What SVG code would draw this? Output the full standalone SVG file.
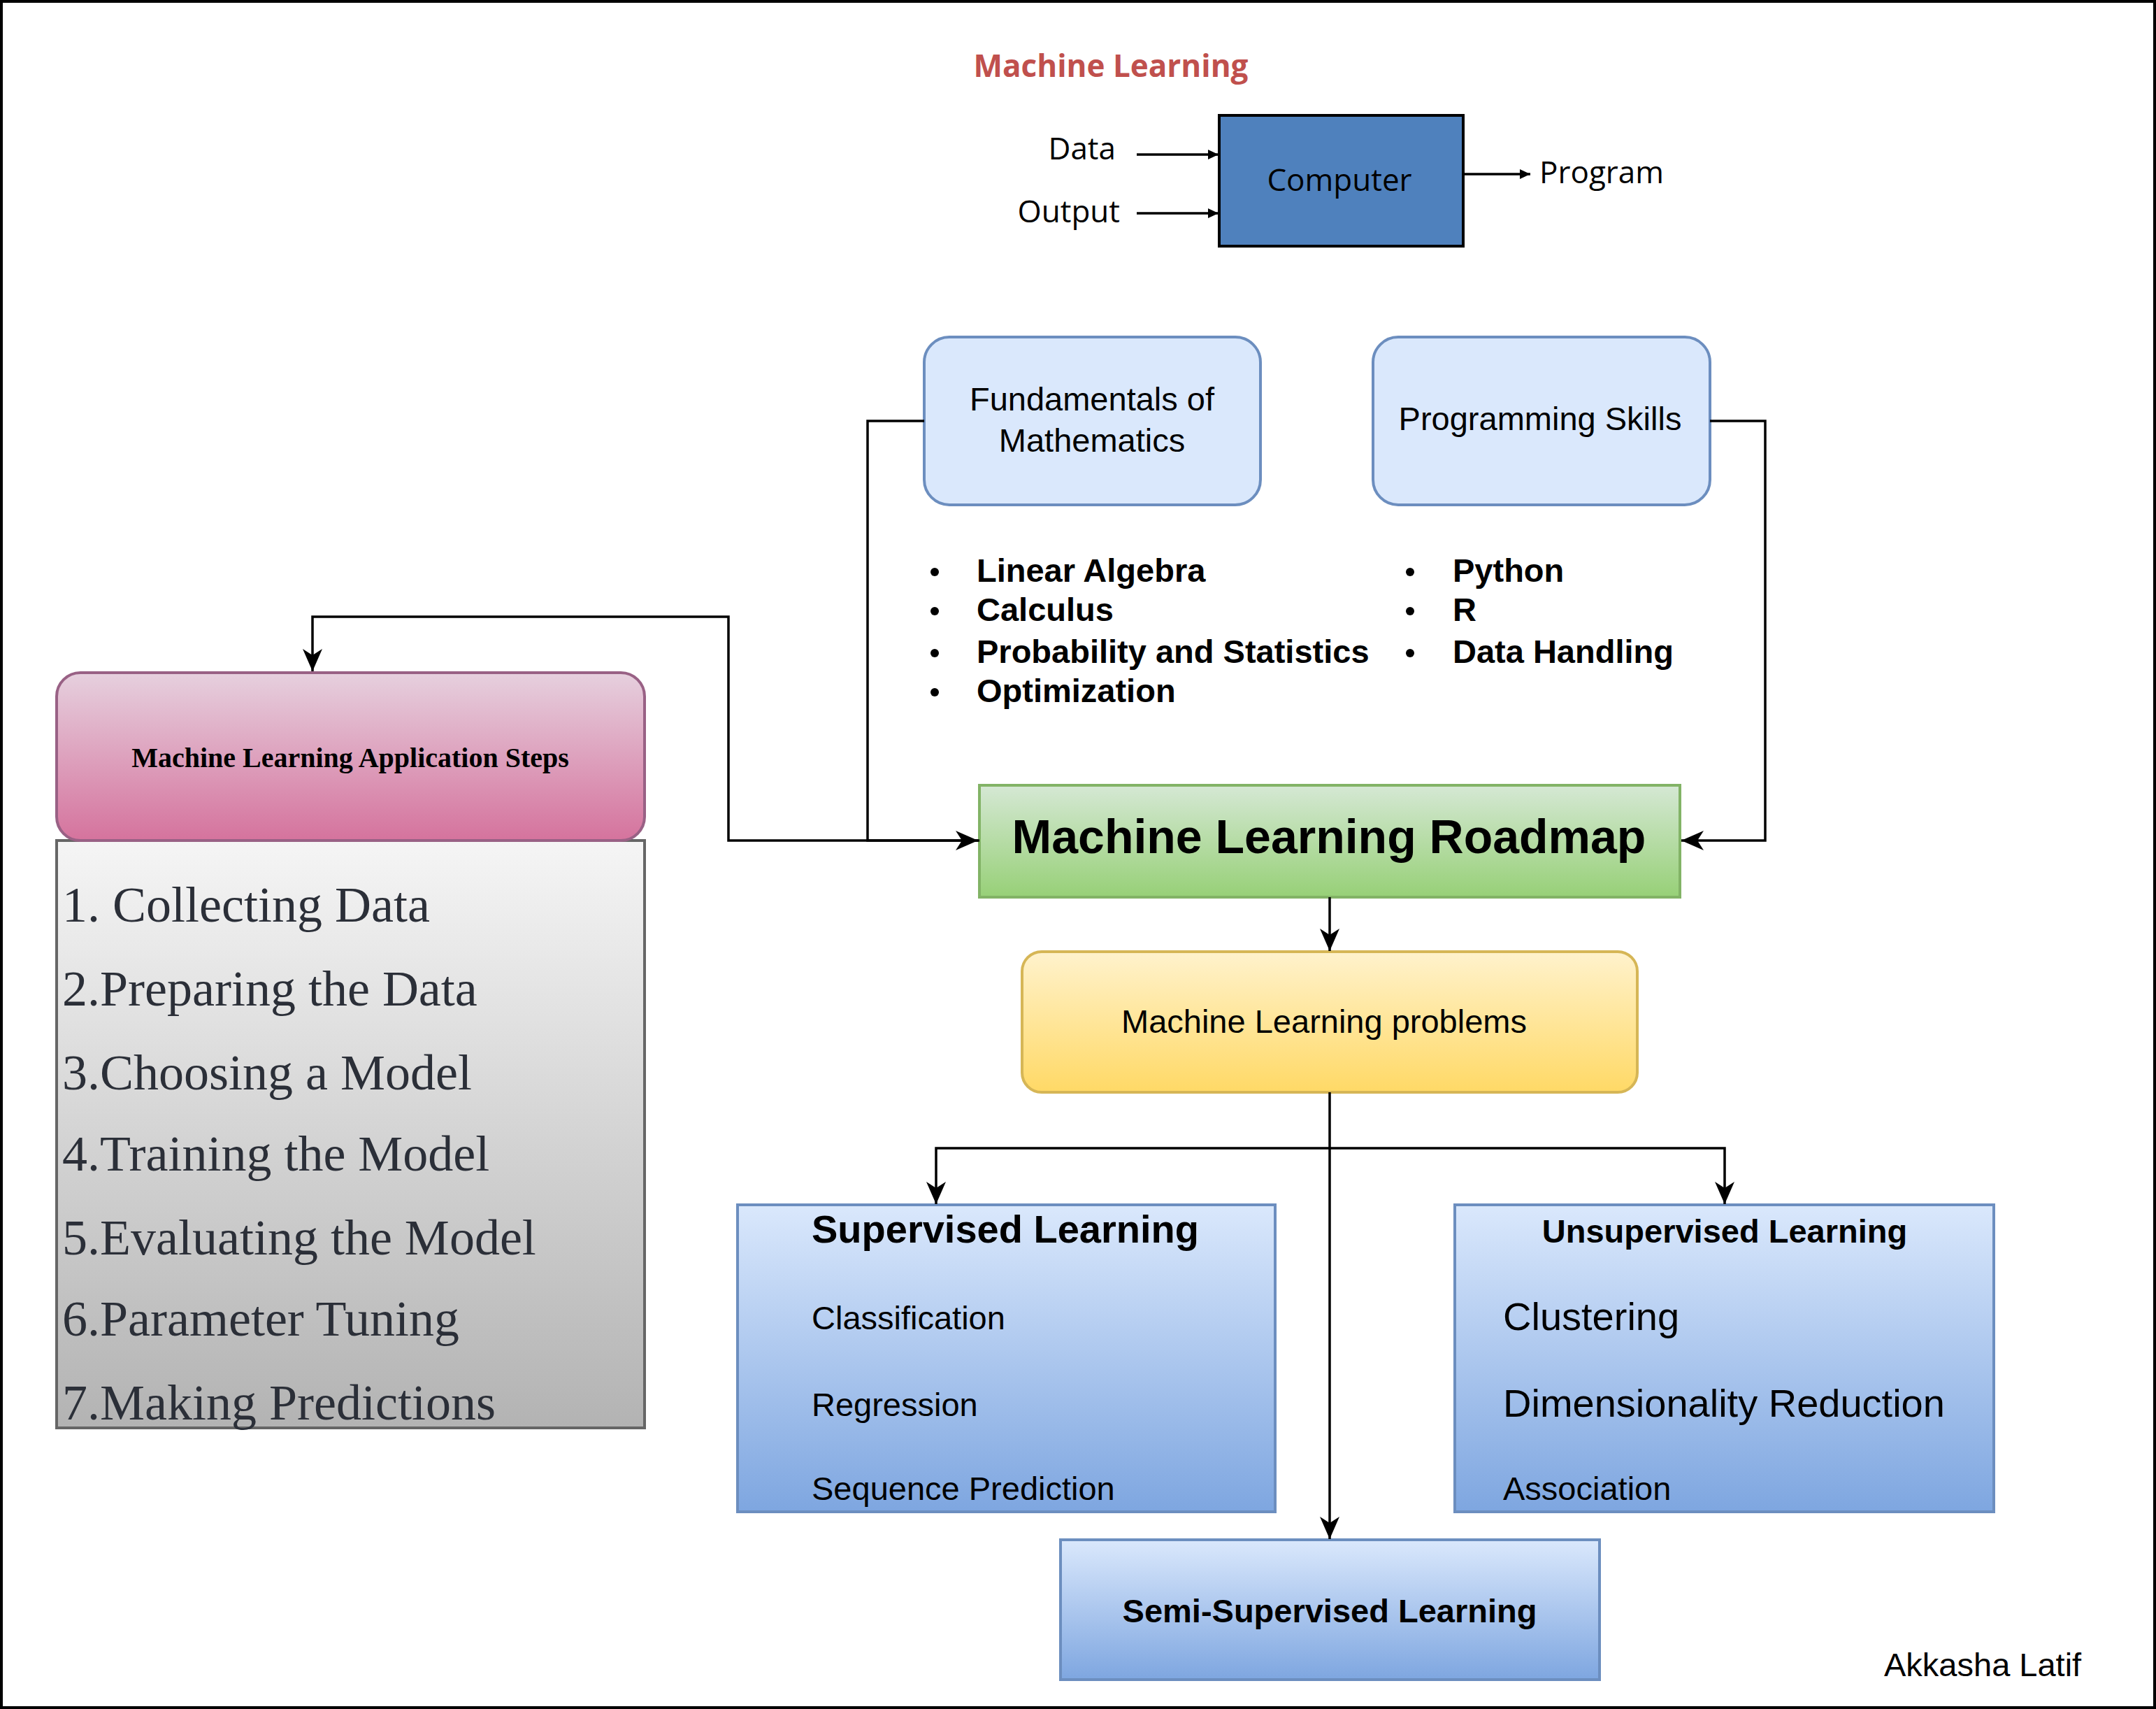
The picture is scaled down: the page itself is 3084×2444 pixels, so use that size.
<svg xmlns="http://www.w3.org/2000/svg" width="3084" height="2444" viewBox="0 0 3084 2444">
<defs>
<linearGradient id="gPink" x1="0" y1="0" x2="0" y2="1"><stop offset="0" stop-color="#e6d0de"/><stop offset="1" stop-color="#d5739d"/></linearGradient>
<linearGradient id="gGray" x1="0" y1="0" x2="0" y2="1"><stop offset="0" stop-color="#f5f5f5"/><stop offset="1" stop-color="#b3b3b3"/></linearGradient>
<linearGradient id="gGreen" x1="0" y1="0" x2="0" y2="1"><stop offset="0" stop-color="#d5e8d4"/><stop offset="1" stop-color="#97d077"/></linearGradient>
<linearGradient id="gYellow" x1="0" y1="0" x2="0" y2="1"><stop offset="0" stop-color="#fff2cc"/><stop offset="1" stop-color="#ffd966"/></linearGradient>
<linearGradient id="gBlue" x1="0" y1="0" x2="0" y2="1"><stop offset="0" stop-color="#dae8fc"/><stop offset="1" stop-color="#7ea6e0"/></linearGradient>
<marker id="arr" markerUnits="userSpaceOnUse" markerWidth="34" markerHeight="30" refX="32" refY="15" orient="auto" viewBox="0 0 34 30">
<path d="M0,1 L32,15 L0,29 L9,15 Z" fill="#000"/>
</marker>
<marker id="sarr" markerUnits="userSpaceOnUse" markerWidth="16" markerHeight="14" refX="15" refY="7" orient="auto" viewBox="0 0 16 14">
<path d="M0,0 L15,7 L0,14 Z" fill="#000"/>
</marker>
</defs>
<style>
.sans{font-family:"Liberation Sans",Arial,sans-serif;fill:#000}
.cal{font-family:"Open Sans","Liberation Sans",sans-serif;fill:#000}
.serif{font-family:"Liberation Serif","Times New Roman",serif}
.b{font-weight:bold}
.f47{font-size:47px}
.f56{font-size:56px}
.conn{fill:none;stroke:#000;stroke-width:3.5}
.sconn{fill:none;stroke:#000;stroke-width:3.5}
.blue{fill:url(#gBlue);stroke:#6c8ebf;stroke-width:4}
.light{fill:#dae8fc;stroke:#6c8ebf;stroke-width:4}
.step{font-family:"Liberation Serif","Times New Roman",serif;font-size:72px;fill:#2b2f38}
</style>
<rect x="2" y="2" width="3080" height="2440" fill="#ffffff" stroke="#000" stroke-width="4"/>

<g id="ml-title">
<text x="1589" y="110" class="cal" style="font-size:44px;font-weight:bold;fill:#c0504d" text-anchor="middle">Machine Learning</text>
</g>
<g id="computer">
<rect x="1744" y="165" width="349" height="187" fill="#4f81bd" stroke="#000" stroke-width="4"/>
<text x="1916" y="273" class="cal" style="font-size:44px" text-anchor="middle">Computer</text>
</g>
<g id="data-label"><text x="1596" y="228" class="cal" style="font-size:44px" text-anchor="end">Data</text></g>
<g id="output-label"><text x="1602" y="318" class="cal" style="font-size:44px" text-anchor="end">Output</text></g>
<g id="program-label"><text x="2202" y="262" class="cal" style="font-size:44px">Program</text></g>

<g id="fundamentals">
<rect x="1322" y="482" width="481" height="240" rx="36" ry="36" class="light"/>
<text x="1562" y="587" class="sans f47" text-anchor="middle">Fundamentals of</text>
<text x="1562" y="646" class="sans f47" text-anchor="middle">Mathematics</text>
</g>
<g id="programming">
<rect x="1964" y="482" width="482" height="240" rx="36" ry="36" class="light"/>
<text x="2203" y="615" class="sans f47" text-anchor="middle">Programming Skills</text>
</g>

<g id="math-list">
<circle cx="1337" cy="818" r="6" fill="#000"/>
<circle cx="1337" cy="874" r="6" fill="#000"/>
<circle cx="1337" cy="934" r="6" fill="#000"/>
<circle cx="1337" cy="990" r="6" fill="#000"/>
<text x="1397" y="832" class="sans f47 b">Linear Algebra</text>
<text x="1397" y="888" class="sans f47 b">Calculus</text>
<text x="1397" y="948" class="sans f47 b">Probability and Statistics</text>
<text x="1397" y="1004" class="sans f47 b">Optimization</text>
</g>
<g id="prog-list">
<circle cx="2017" cy="818" r="6" fill="#000"/>
<circle cx="2017" cy="874" r="6" fill="#000"/>
<circle cx="2017" cy="934" r="6" fill="#000"/>
<text x="2078" y="832" class="sans f47 b">Python</text>
<text x="2078" y="888" class="sans f47 b">R</text>
<text x="2078" y="948" class="sans f47 b">Data Handling</text>
</g>

<g id="steps-list">
<rect x="81" y="1202" width="841" height="840" fill="url(#gGray)" stroke="#666666" stroke-width="4"/>
<text x="89" y="1318" class="step">1. Collecting Data</text>
<text x="89" y="1438" class="step">2.Preparing the Data</text>
<text x="89" y="1558" class="step">3.Choosing a Model</text>
<text x="89" y="1674" class="step">4.Training the Model</text>
<text x="89" y="1794" class="step">5.Evaluating the Model</text>
<text x="89" y="1910" class="step">6.Parameter Tuning</text>
<text x="89" y="2030" class="step">7.Making Predictions</text>
</g>
<g id="app-steps">
<rect x="81" y="962" width="841" height="240" rx="34" ry="34" fill="url(#gPink)" stroke="#996185" stroke-width="4"/>
<text x="501" y="1097" class="serif b" style="font-size:40px;fill:#000" text-anchor="middle">Machine Learning Application Steps</text>
</g>

<g id="roadmap">
<rect x="1401" y="1123" width="1002" height="160" fill="url(#gGreen)" stroke="#82b366" stroke-width="4"/>
<text x="1901" y="1220" class="sans b" style="font-size:68px" text-anchor="middle">Machine Learning Roadmap</text>
</g>
<g id="ml-problems">
<rect x="1462" y="1361" width="880" height="201" rx="28" ry="28" fill="url(#gYellow)" stroke="#d6b656" stroke-width="4"/>
<text x="1894" y="1477" class="sans f47" text-anchor="middle">Machine Learning problems</text>
</g>
<g id="supervised">
<rect x="1055" y="1723" width="769" height="439" class="blue"/>
<text x="1161" y="1777" class="sans f56 b">Supervised Learning</text>
<text x="1161" y="1901" class="sans f47">Classification</text>
<text x="1161" y="2025" class="sans f47">Regression</text>
<text x="1161" y="2145" class="sans f47">Sequence Prediction</text>
</g>
<g id="unsupervised">
<rect x="2081" y="1723" width="771" height="439" class="blue"/>
<text x="2467" y="1777" class="sans f47 b" text-anchor="middle">Unsupervised Learning</text>
<text x="2150" y="1902" class="sans f56">Clustering</text>
<text x="2150" y="2026" class="sans f56">Dimensionality Reduction</text>
<text x="2150" y="2145" class="sans f47">Association</text>
</g>
<g id="semi-supervised">
<rect x="1517" y="2202" width="771" height="200" class="blue"/>
<text x="1902" y="2320" class="sans f47 b" text-anchor="middle">Semi-Supervised Learning</text>
</g>
<g id="author">
<text x="2695" y="2397" class="sans f47">Akkasha Latif</text>
</g>

<g id="connectors">
<path class="sconn" d="M1626,221 H1743" marker-end="url(#sarr)"/>
<path class="sconn" d="M1626,305 H1743" marker-end="url(#sarr)"/>
<path class="sconn" d="M2093,249 H2189" marker-end="url(#sarr)"/>
<path class="conn" d="M1322,602 H1241 V1202 H1399" marker-end="url(#arr)"/>
<path class="conn" d="M2446,602 H2525 V1202 H2405" marker-end="url(#arr)"/>
<path class="conn" d="M1401,1202 H1042 V882 H447 V960" marker-end="url(#arr)"/>
<path class="conn" d="M1902,1283 V1360" marker-end="url(#arr)"/>
<path class="conn" d="M1902,1562 V1642 H1339 V1722" marker-end="url(#arr)"/>
<path class="conn" d="M1902,1642 H2467 V1722" marker-end="url(#arr)"/>
<path class="conn" d="M1902,1642 V2201" marker-end="url(#arr)"/>
</g>
</svg>
